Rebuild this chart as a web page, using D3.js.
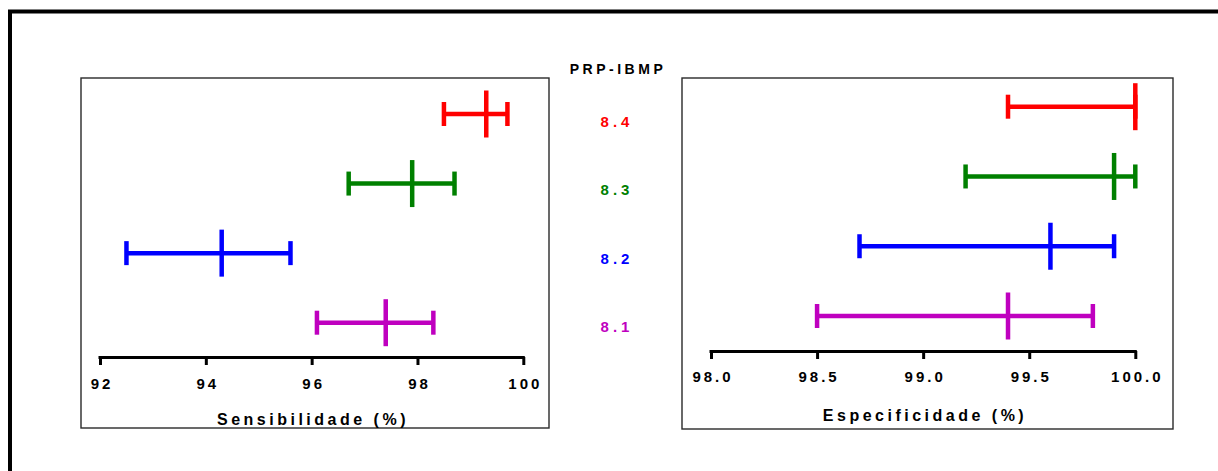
<!DOCTYPE html>
<html>
<head>
<meta charset="utf-8">
<script src="https://cdn.jsdelivr.net/npm/d3@7"></script>
<style>
  html, body { margin: 0; padding: 0; background: #fff; }
  svg { display: block; }
  text { font-family: "Liberation Sans", Arial, sans-serif; font-weight: bold; }
</style>
</head>
<body>
<svg id="chart" width="1218" height="471"></svg>
<script>
// PRP-IBMP versions, top to bottom
const versions = ["8.4", "8.3", "8.2", "8.1"];
const colors = ["#ff0000", "#008000", "#0000ff", "#bf00bf"];

// Sensitivity (%): mean with lower / upper confidence limits
const sensMean  = [99.3, 97.9, 94.3, 97.4];
const sensLower = [98.5, 96.7, 92.5, 96.1];
const sensUpper = [99.7, 98.7, 95.6, 98.3];
const sensTicks = [92, 94, 96, 98, 100];

// Specificity (%): mean with lower / upper confidence limits
const specMean  = [100.0, 99.9, 99.6, 99.4];
const specLower = [99.4, 99.2, 98.7, 98.5];
const specUpper = [100.0, 100.0, 99.9, 99.8];
const specTicks = [98.0, 98.5, 99.0, 99.5, 100.0];

const svg = d3.select("#chart");

// outer frame (only top and left edges fall inside the canvas)
svg.append("rect")
  .attr("x", 10).attr("y", 11.5)
  .attr("width", 1300).attr("height", 600)
  .attr("fill", "none").attr("stroke", "#000").attr("stroke-width", 4);

function panel(cfg) {
  const g = svg.append("g");
  g.append("rect")
    .attr("x", cfg.box[0]).attr("y", cfg.box[1])
    .attr("width", cfg.box[2]).attr("height", cfg.box[3])
    .attr("fill", "none").attr("stroke", "#2a2a2a").attr("stroke-width", 1.4);

  const x = d3.scaleLinear().domain(cfg.domain).range(cfg.xRange);
  const y = d3.scalePoint().domain(versions).range(cfg.yRange);

  const axis = d3.axisBottom(x)
    .tickValues(cfg.ticks)
    .tickFormat(cfg.fmt)
    .tickSize(8)
    .tickSizeOuter(0)
    .tickPadding(cfg.tickPad);

  const ax = g.append("g")
    .attr("transform", `translate(0,${cfg.axisY})`)
    .call(axis);
  ax.select(".domain").attr("stroke", "#000").attr("stroke-width", 3)
    .attr("d", `M${x(cfg.domain[0]) - 1.5},0.5H${x(cfg.domain[1]) + 1.5}`);
  ax.selectAll(".tick line").attr("stroke", "#000").attr("stroke-width", 3);
  ax.selectAll(".tick text")
    .attr("fill", "#000")
    .style("font-size", "15px")
    .style("font-family", '"Liberation Sans", Arial, sans-serif')
    .style("font-weight", "bold")
    .style("letter-spacing", "3px")
    .attr("dx", "1.5px");

  g.append("text")
    .attr("x", cfg.titleX).attr("y", cfg.titleY)
    .attr("text-anchor", "middle")
    .style("font-size", "16px")
    .style("letter-spacing", "3.5px")
    .text(cfg.title);

  const rows = g.selectAll("g.row")
    .data(versions.map((v, i) => ({ v, i })))
    .join("g").attr("class", "row")
    .attr("stroke", d => colors[d.i])
    .attr("stroke-width", 4.5)
    .attr("fill", "none");

  // whisker
  rows.append("line")
    .attr("x1", d => x(cfg.lower[d.i])).attr("x2", d => x(cfg.upper[d.i]))
    .attr("y1", d => y(d.v)).attr("y2", d => y(d.v));
  // caps
  rows.append("line")
    .attr("x1", d => x(cfg.lower[d.i])).attr("x2", d => x(cfg.lower[d.i]))
    .attr("y1", d => y(d.v) - 12).attr("y2", d => y(d.v) + 12);
  rows.append("line")
    .attr("x1", d => x(cfg.upper[d.i])).attr("x2", d => x(cfg.upper[d.i]))
    .attr("y1", d => y(d.v) - 12).attr("y2", d => y(d.v) + 12);
  // mean
  rows.append("line")
    .attr("x1", d => x(cfg.mean[d.i])).attr("x2", d => x(cfg.mean[d.i]))
    .attr("y1", d => y(d.v) - 23.5).attr("y2", d => y(d.v) + 23.5);
}

panel({
  box: [81, 78, 468, 350],
  domain: [92, 100], xRange: [100, 523.3],
  yRange: [114, 322.7],
  axisY: 357, tickPad: 13,
  ticks: sensTicks, fmt: d3.format("d"),
  mean: sensMean, lower: sensLower, upper: sensUpper,
  title: "Sensibilidade (%)", titleX: 313, titleY: 425
});

panel({
  box: [682, 78, 491, 351],
  domain: [98, 100], xRange: [711, 1135.3],
  yRange: [106.7, 316],
  axisY: 351, tickPad: 12,
  ticks: specTicks, fmt: d3.format(".1f"),
  mean: specMean, lower: specLower, upper: specUpper,
  title: "Especificidade (%)", titleX: 925, titleY: 421
});

// centre legend: version labels
svg.append("text")
  .attr("x", 618).attr("y", 74)
  .attr("text-anchor", "middle")
  .style("font-size", "14px")
  .style("letter-spacing", "3.5px")
  .text("PRP-IBMP");

const ly = d3.scalePoint().domain(versions).range([121, 326.7]);
svg.selectAll("text.ver")
  .data(versions.map((v, i) => ({ v, i })))
  .join("text").attr("class", "ver")
  .attr("x", 617).attr("y", d => ly(d.v) + 5.5)
  .attr("text-anchor", "middle")
  .attr("fill", d => colors[d.i])
  .style("font-size", "15px")
  .style("letter-spacing", "4px")
  .text(d => d.v);
</script>
</body>
</html>
